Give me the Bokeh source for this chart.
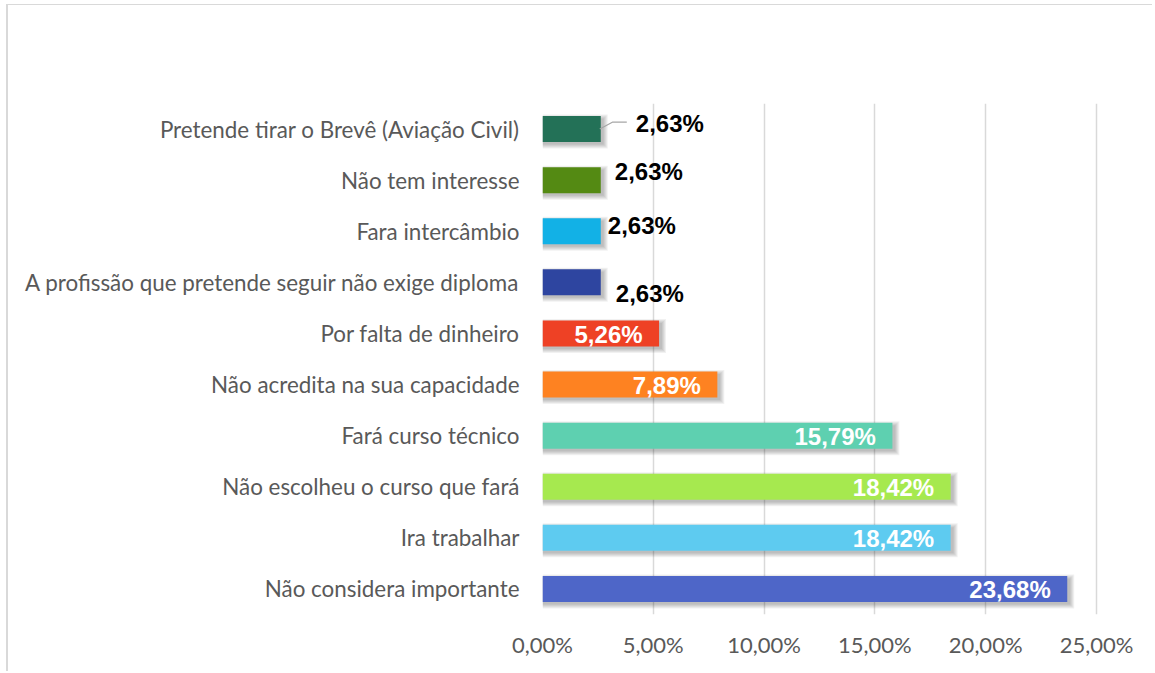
from bokeh.plotting import figure
from bokeh.models import ColumnDataSource, Range1d, FixedTicker
from bokeh.core.properties import value
from bokeh.embed import file_html
from bokeh.resources import INLINE

categories = [
    "Pretende tirar o Brevê (Aviação Civil)",
    "Não tem interesse",
    "Fara intercâmbio",
    "A profissão que pretende seguir não exige diploma",
    "Por falta de dinheiro",
    "Não acredita na sua capacidade",
    "Fará curso técnico",
    "Não escolheu o curso que fará",
    "Ira trabalhar",
    "Não considera importante",
]
values = [2.63, 2.63, 2.63, 2.63, 5.26, 7.89, 15.79, 18.42, 18.42, 23.68]
value_labels = ["2,63%", "2,63%", "2,63%", "2,63%", "5,26%", "7,89%",
                "15,79%", "18,42%", "18,42%", "23,68%"]
colors = ["#237157", "#548A13", "#12B1E6", "#2E45A0", "#EE4125", "#FE8221",
          "#5ED0B0", "#A6E94F", "#5ECBF0", "#4E66C8"]
x_ticks = [0, 5, 10, 15, 20, 25]
x_tick_labels = ["0,00%", "5,00%", "10,00%", "15,00%", "20,00%", "25,00%"]

n = len(categories)
ypos = [n - i - 0.5 for i in range(n)]

W, H = 1146, 667
LEFT, RIGHT, TOP, BOTTOM = 534, 56, 98, 58
frame_w = W - LEFT - RIGHT
frame_h = H - TOP - BOTTOM
XMAX = 25.09
PXX = XMAX / frame_w      # data units per pixel (x)
PXY = n / frame_h         # data units per pixel (y)

p = figure(width=W, height=H, output_backend="svg", toolbar_location=None,
           x_range=Range1d(0, XMAX), y_range=Range1d(0, n),
           min_border_left=LEFT, min_border_right=RIGHT,
           min_border_top=TOP, min_border_bottom=BOTTOM)
p.outline_line_color = None
p.background_fill_color = "white"
p.border_fill_color = "white"
# outer chart border (top and left edges visible)
p.styles = {"border-top": "1px solid #d9d9d9", "border-left": "2px solid #d9d9d9",
            "margin-top": "4px", "margin-left": "6px"}

# grid
p.ygrid.grid_line_color = None
p.xgrid.grid_line_color = "#d9d9d9"
p.xgrid.grid_line_width = 1.5
p.xaxis.ticker = FixedTicker(ticks=x_ticks)
p.xaxis.major_label_overrides = {t: l for t, l in zip(x_ticks, x_tick_labels)}
p.xaxis.axis_line_color = None
p.xaxis.major_tick_line_color = None
p.xaxis.minor_tick_line_color = None
p.xaxis.major_label_standoff = 10
p.xaxis.major_label_text_font = "Lato"
p.xaxis.major_label_text_font_size = "22px"
p.xaxis.major_label_text_color = "#595959"

p.yaxis.ticker = FixedTicker(ticks=ypos)
p.yaxis.major_label_overrides = {y: c for y, c in zip(ypos, categories)}
p.yaxis.axis_line_color = None
p.yaxis.major_tick_line_color = None
p.yaxis.minor_tick_line_color = None
p.yaxis.major_label_standoff = 17
p.yaxis.major_label_text_font = "Lato"
p.yaxis.major_label_text_font_size = "22.4px"
p.yaxis.major_label_text_color = "#595959"

bar_h = 26 * PXY
src = ColumnDataSource(dict(y=ypos, v=values, c=colors, lab=value_labels))

# soft drop shadows
for e in [0, 2, 4, 6, 8]:
    sh = ColumnDataSource(dict(y=[y - 2.5 * PXY for y in ypos],
                               r=[v + (3 + e / 2) * PXX for v in values]))
    p.hbar(y="y", left=0, right="r", height=bar_h + e * PXY, source=sh,
           fill_color="black", fill_alpha=0.055, line_color=None)

p.hbar(y="y", left=0, right="v", height=bar_h, source=src,
       fill_color="c", line_color=None)

# white labels inside bars (values >= 5)
big = [i for i, v in enumerate(values) if v > 3]
p.text(x=[values[i] - 16.5 * PXX for i in big],
       y=[ypos[i] - 1 * PXY for i in big],
       text=[value_labels[i] for i in big],
       text_color="white", text_font=value("Liberation Sans"),
       text_font_style="bold", text_font_size="24px",
       text_align="right", text_baseline="middle")

# black labels for the small bars (moved as in the original)
small = [i for i, v in enumerate(values) if v <= 3]
dx = [35, 14, 7, 15]
dy = [5.5, 8.7, 5.7, -11]
p.text(x=[values[i] + d * PXX for i, d in zip(small, dx)],
       y=[ypos[i] + d * PXY for i, d in zip(small, dy)],
       text=[value_labels[i] for i in small],
       text_color="black", text_font=value("Liberation Sans"),
       text_font_style="bold", text_font_size="24px",
       text_align="left", text_baseline="middle")

# leader line for first label
v0, y0 = values[0], ypos[0]
p.line(x=[v0 - 1 * PXX, v0 + 12 * PXX, v0 + 26 * PXX],
       y=[y0, y0 + 7 * PXY, y0 + 7 * PXY],
       line_color="#a6a6a6", line_width=1.2)

open("out.html", "w").write(file_html(p, INLINE))
